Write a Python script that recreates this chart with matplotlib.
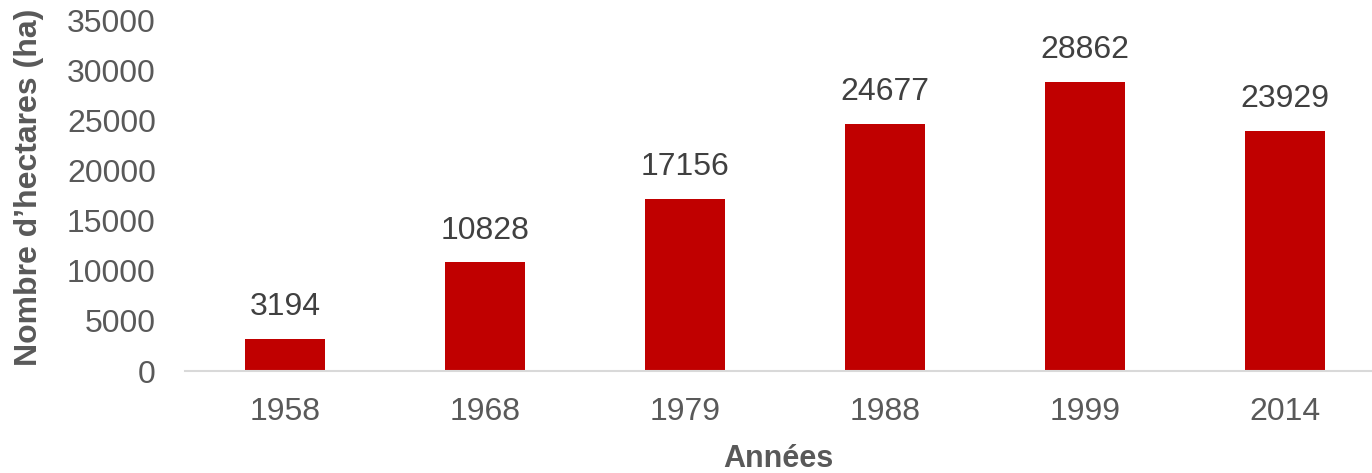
import matplotlib.pyplot as plt

years = ['1958', '1968', '1979', '1988', '1999', '2014']
hectares = [3194, 10828, 17156, 24677, 28862, 23929]
yticks = [0, 5000, 10000, 15000, 20000, 25000, 30000, 35000]

plt.rcParams['font.family'] = ['Liberation Sans', 'DejaVu Sans']
grey = '#595959'

fig = plt.figure(figsize=(13.72, 4.73), dpi=100)
ax = fig.add_axes([185 / 1372, 102 / 473, 1187 / 1372, 351 / 473])

x = range(len(years))
bars = ax.bar(x, hectares, width=0.4, color='#C00000')
for rect, val in zip(bars, hectares):
    ax.annotate(str(val), (rect.get_x() + rect.get_width() / 2, val),
                xytext=(0, 12), textcoords='offset points',
                ha='center', va='bottom', fontsize=23, color='#404040')

ax.set_xlim(-0.5, 5.435)
ax.set_ylim(0, 35000)
ax.set_xticks(list(x))
ax.set_xticklabels(years)
ax.set_yticks(yticks)
ax.tick_params(axis='both', length=0, labelsize=23, colors=grey)
ax.tick_params(axis='x', pad=19)
ax.tick_params(axis='y', pad=21)

for side in ['top', 'right', 'left']:
    ax.spines[side].set_visible(False)
ax.spines['bottom'].set_color('#d9d9d9')
ax.spines['bottom'].set_linewidth(1.5)

ax.set_xlabel('Années', fontsize=22, fontweight='bold', color=grey, labelpad=12)
ax.set_ylabel('Nombre d’hectares (ha)', fontsize=23, fontweight='bold',
              color=grey)
ax.yaxis.set_label_coords(-0.119, 0.524)

fig.savefig('out.png', dpi=100)
